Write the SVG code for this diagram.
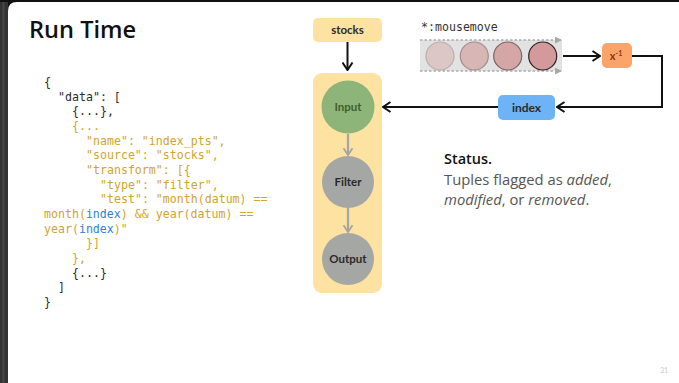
<svg xmlns="http://www.w3.org/2000/svg" width="679" height="383" viewBox="0 0 679 383">
<style>
.code{font-family:"DejaVu Sans Mono","Liberation Mono",monospace;font-size:11.6px;fill:#2b2b2b}
.g{fill:#d0a42c}
.b{fill:#2f7fd0}
.lbl{font-family:Lato,"Noto Sans",sans-serif;font-weight:700;font-size:11.5px;text-anchor:middle;fill:#2a2a2a}
.stat{font-family:"Open Sans","Noto Sans",sans-serif;font-size:14.8px;fill:#555}
.conn{fill:none;stroke:#111;stroke-width:2}
.connG{fill:none;stroke:#a3a5a3;stroke-width:2.2}
</style>
<defs>
<marker id="chev" viewBox="0 0 10 12" refX="9" refY="6" markerWidth="10" markerHeight="12" markerUnits="userSpaceOnUse" orient="auto">
<path d="M1.5,1 L9,6 L1.5,11" fill="none" stroke="#111" stroke-width="2"/>
</marker>
<marker id="chevG" viewBox="0 0 10 12" refX="9" refY="6" markerWidth="9" markerHeight="11" markerUnits="userSpaceOnUse" orient="auto">
<path d="M1.5,1 L9,6 L1.5,11" fill="none" stroke="#a3a5a3" stroke-width="2"/>
</marker>
<marker id="tri" viewBox="0 0 8 8" refX="7" refY="4" markerWidth="7" markerHeight="7" markerUnits="userSpaceOnUse" orient="auto">
<path d="M0,0 L8,4 L0,8 Z" fill="#a8a8a8"/>
</marker>
</defs>

<!-- slide frame -->
<rect x="0" y="0" width="679" height="383" fill="#111"/>
<rect x="0" y="2" width="8" height="381" fill="#333"/>
<rect x="2.5" y="2" width="2" height="381" fill="#474747"/>
<path d="M17,2 H679 V383 H8 V11 Q8,2 17,2 Z" fill="#fff"/>

<text x="29" y="37.5" font-family="'Open Sans','Noto Sans',sans-serif" font-weight="600" font-size="23.6" fill="#111">Run Time</text>

<!-- code -->
<g id="code" class="code">
<text x="44" y="86">{</text>
<text x="58" y="100.7">"data": [</text>
<text x="72" y="115.3">{...},</text>
<text x="72" y="130" class="g">{...</text>
<text x="86" y="144.7" class="g">"name": "index_pts",</text>
<text x="86" y="159.3" class="g">"source": "stocks",</text>
<text x="86" y="174" class="g">"transform": [{</text>
<text x="100" y="188.7" class="g">"type": "filter",</text>
<text x="100" y="203.3" class="g">"test": "month(datum) ==</text>
<text x="44" y="218" class="g">month(<tspan class="b">index</tspan>) &amp;&amp; year(datum) ==</text>
<text x="44" y="232.7" class="g">year(<tspan class="b">index</tspan>)"</text>
<text x="86" y="247.3" class="g">}]</text>
<text x="72" y="262" class="g">},</text>
<text x="72" y="276.7">{...}</text>
<text x="58" y="291.3">]</text>
<text x="44" y="306">}</text>
</g>

<!-- container -->
<g id="pipeline">
<rect x="313" y="73" width="69" height="220" rx="9" fill="#fde2a1"/>
</g>

<!-- connectors -->
<g id="connectors">
<line class="conn" x1="347.5" y1="42" x2="347.5" y2="70" marker-end="url(#chev)"/>
<line class="connG" x1="348" y1="134" x2="348" y2="155" marker-end="url(#chevG)"/>
<line class="connG" x1="348" y1="208" x2="348" y2="232" marker-end="url(#chevG)"/>
<line class="conn" x1="498" y1="107" x2="383" y2="107" marker-end="url(#chev)"/>
<line class="conn" x1="563" y1="56" x2="600" y2="56" marker-end="url(#chev)"/>
<polyline class="conn" points="632,56 662,56 662,107 557,107" marker-end="url(#chev)"/>
</g>

<g id="stocks">
<rect x="313" y="18" width="69" height="24" rx="5" fill="#fde2a1"/>
<text class="lbl" x="347.5" y="34">stocks</text>
</g>

<g id="input">
<circle cx="348" cy="107" r="26.5" fill="#8db57a"/>
<text class="lbl" x="348" y="111" style="fill:#3f5f2c">Input</text>
</g>
<g id="filter">
<circle cx="348" cy="182" r="26" fill="#a5a7a5"/>
<text class="lbl" x="348" y="186">Filter</text>
</g>
<g id="output">
<circle cx="348" cy="259" r="26" fill="#a5a7a5"/>
<text class="lbl" x="348" y="263">Output</text>
</g>

<g id="index">
<rect x="498" y="95" width="57" height="25" rx="5" fill="#6db3f6"/>
<text class="lbl" x="526.5" y="111.5" style="font-size:12px">index</text>
</g>

<g id="inverse">
<rect x="602" y="43" width="30" height="25" rx="5" fill="#fba46a"/>
<text x="616" y="59.5" text-anchor="middle" font-family="Lato,'Noto Sans',sans-serif" font-weight="700" font-size="11" fill="#8a3518">x<tspan font-size="7" dy="-4">-1</tspan></text>
</g>

<g id="stream">
<text x="421" y="31" font-family="'DejaVu Sans Mono','Liberation Mono',monospace" font-size="11.6" fill="#333">*:mousemove</text>
<rect x="420" y="40" width="142" height="31" fill="#e2e2e2"/>
<line x1="420" y1="40" x2="561" y2="40" stroke="#aaa" stroke-width="1.3" stroke-dasharray="2.5,2" marker-end="url(#tri)"/>
<line x1="420" y1="71" x2="561" y2="71" stroke="#aaa" stroke-width="1.3" stroke-dasharray="2.5,2" marker-end="url(#tri)"/>
<circle cx="440" cy="56" r="14" fill="#dcc6c6" stroke="#bcaeae" stroke-width="1.2"/>
<circle cx="474.3" cy="56" r="14" fill="#d9b6b6" stroke="#a08c8c" stroke-width="1.2"/>
<circle cx="507.7" cy="56" r="14" fill="#d5a6a6" stroke="#7a6464" stroke-width="1.2"/>
<circle cx="542.7" cy="56" r="14" fill="#d29a9a" stroke="#2a2222" stroke-width="1.2"/>
</g>

<g id="status">
<text x="444" y="164" font-family="'Open Sans','Noto Sans',sans-serif" font-weight="600" font-size="14.5" fill="#111">Status.</text>
<text class="stat" x="444" y="184.5">Tuples flagged as <tspan font-style="italic">added</tspan>,</text>
<text class="stat" x="444" y="204.5"><tspan font-style="italic">modified</tspan>, or <tspan font-style="italic">removed</tspan>.</text>
</g>

<text x="664" y="373" text-anchor="middle" font-family="Lato,sans-serif" font-size="7" fill="#c8c8c8">31</text>
</svg>
